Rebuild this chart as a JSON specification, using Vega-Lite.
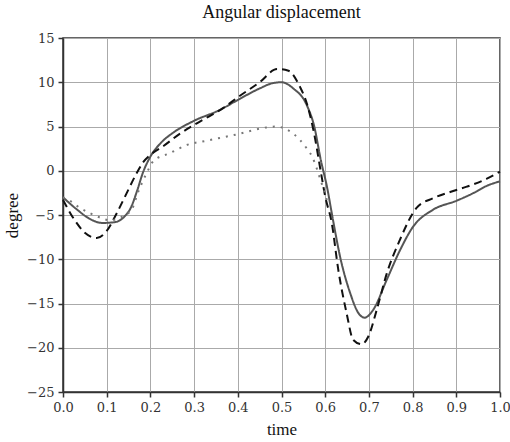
{
  "$schema": "https://vega.github.io/schema/vega-lite/v6.json",
  "width": 437,
  "height": 354,
  "autosize": {"type": "none"},
  "padding": {"left": 63, "top": 38, "right": 10, "bottom": 50},
  "title": {"text": "Angular displacement", "font": "Liberation Serif", "fontSize": 18, "fontWeight": "normal", "color": "#111", "offset": 10, "anchor": "middle"},
  "config": {
    "view": {"stroke": "#333", "strokeWidth": 1.5},
    "axis": {"labelFont": "DejaVu Serif", "titleFont": "Liberation Serif", "labelFontSize": 13, "titleFontSize": 17, "titleFontWeight": "normal", "labelColor": "#333", "titleColor": "#111", "domainColor": "#333", "domainWidth": 1.5, "tickColor": "#333", "tickWidth": 1.5, "tickSize": 5, "gridColor": "#aaa", "gridWidth": 1, "gridOpacity": 1}
  },
  "data": {"values": [
    {"s":"solid","t":0.0,"v":-3.0},{"s":"solid","t":0.03,"v":-4.3},{"s":"solid","t":0.06,"v":-5.4},{"s":"solid","t":0.09,"v":-5.9},{"s":"solid","t":0.12,"v":-5.8},{"s":"solid","t":0.14,"v":-5.2},{"s":"solid","t":0.155,"v":-4.2},{"s":"solid","t":0.17,"v":-2.2},{"s":"solid","t":0.183,"v":-0.2},{"s":"solid","t":0.2,"v":1.6},{"s":"solid","t":0.225,"v":3.2},{"s":"solid","t":0.252,"v":4.3},{"s":"solid","t":0.298,"v":5.6},{"s":"solid","t":0.36,"v":6.9},{"s":"solid","t":0.4,"v":8.0},{"s":"solid","t":0.45,"v":9.3},{"s":"solid","t":0.48,"v":9.9},{"s":"solid","t":0.5,"v":10.0},{"s":"solid","t":0.527,"v":9.3},{"s":"solid","t":0.558,"v":7.4},{"s":"solid","t":0.575,"v":5.0},{"s":"solid","t":0.59,"v":1.2},{"s":"solid","t":0.604,"v":-1.8},{"s":"solid","t":0.618,"v":-5.6},{"s":"solid","t":0.634,"v":-9.7},{"s":"solid","t":0.657,"v":-13.8},{"s":"solid","t":0.675,"v":-16.0},{"s":"solid","t":0.69,"v":-16.6},{"s":"solid","t":0.71,"v":-15.7},{"s":"solid","t":0.741,"v":-12.3},{"s":"solid","t":0.771,"v":-9.0},{"s":"solid","t":0.8,"v":-6.4},{"s":"solid","t":0.847,"v":-4.4},{"s":"solid","t":0.9,"v":-3.4},{"s":"solid","t":0.94,"v":-2.5},{"s":"solid","t":0.97,"v":-1.7},{"s":"solid","t":1.0,"v":-1.2},
    {"s":"dashed","t":0.0,"v":-3.3},{"s":"dashed","t":0.027,"v":-5.6},{"s":"dashed","t":0.05,"v":-7.0},{"s":"dashed","t":0.077,"v":-7.6},{"s":"dashed","t":0.1,"v":-6.8},{"s":"dashed","t":0.123,"v":-4.8},{"s":"dashed","t":0.146,"v":-2.5},{"s":"dashed","t":0.165,"v":-0.6},{"s":"dashed","t":0.184,"v":1.0},{"s":"dashed","t":0.2,"v":1.8},{"s":"dashed","t":0.23,"v":2.8},{"s":"dashed","t":0.268,"v":4.2},{"s":"dashed","t":0.329,"v":6.0},{"s":"dashed","t":0.367,"v":7.1},{"s":"dashed","t":0.4,"v":8.3},{"s":"dashed","t":0.45,"v":10.0},{"s":"dashed","t":0.49,"v":11.5},{"s":"dashed","t":0.516,"v":11.3},{"s":"dashed","t":0.542,"v":9.5},{"s":"dashed","t":0.558,"v":7.6},{"s":"dashed","t":0.573,"v":4.6},{"s":"dashed","t":0.592,"v":-0.7},{"s":"dashed","t":0.6,"v":-2.9},{"s":"dashed","t":0.615,"v":-5.9},{"s":"dashed","t":0.63,"v":-11.2},{"s":"dashed","t":0.649,"v":-16.1},{"s":"dashed","t":0.664,"v":-19.1},{"s":"dashed","t":0.683,"v":-19.6},{"s":"dashed","t":0.699,"v":-18.7},{"s":"dashed","t":0.718,"v":-15.7},{"s":"dashed","t":0.741,"v":-11.6},{"s":"dashed","t":0.771,"v":-7.8},{"s":"dashed","t":0.809,"v":-4.2},{"s":"dashed","t":0.847,"v":-3.1},{"s":"dashed","t":0.886,"v":-2.4},{"s":"dashed","t":0.924,"v":-1.8},{"s":"dashed","t":0.97,"v":-0.9},{"s":"dashed","t":1.0,"v":-0.1},
    {"s":"dotted","t":0.0,"v":-3.0},{"s":"dotted","t":0.016,"v":-3.4},{"s":"dotted","t":0.039,"v":-4.2},{"s":"dotted","t":0.062,"v":-4.8},{"s":"dotted","t":0.085,"v":-5.3},{"s":"dotted","t":0.108,"v":-5.6},{"s":"dotted","t":0.13,"v":-5.3},{"s":"dotted","t":0.157,"v":-4.4},{"s":"dotted","t":0.172,"v":-2.4},{"s":"dotted","t":0.191,"v":-0.3},{"s":"dotted","t":0.207,"v":1.1},{"s":"dotted","t":0.245,"v":2.0},{"s":"dotted","t":0.283,"v":2.9},{"s":"dotted","t":0.329,"v":3.4},{"s":"dotted","t":0.397,"v":4.1},{"s":"dotted","t":0.466,"v":4.9},{"s":"dotted","t":0.489,"v":5.0},{"s":"dotted","t":0.51,"v":4.7},{"s":"dotted","t":0.527,"v":4.2},{"s":"dotted","t":0.542,"v":3.5},{"s":"dotted","t":0.558,"v":2.5},{"s":"dotted","t":0.571,"v":1.5},{"s":"dotted","t":0.579,"v":0.5},{"s":"dotted","t":0.587,"v":-0.7},{"s":"dotted","t":0.595,"v":-1.9},{"s":"dotted","t":0.605,"v":-3.5}
  ]},
  "mark": {"type": "line", "interpolate": "monotone", "strokeWidth": 2},
  "encoding": {
    "x": {"field": "t", "type": "quantitative", "scale": {"domain": [0, 1], "nice": false}, "axis": {"title": "time", "values": [0,0.1,0.2,0.3,0.4,0.5,0.6,0.7,0.8,0.9,1.0], "format": ".1f", "labelPadding": 4, "titlePadding": 7, "labelFlush": false}},
    "y": {"field": "v", "type": "quantitative", "scale": {"domain": [-25, 15], "nice": false}, "axis": {"title": "degree", "values": [-25,-20,-15,-10,-5,0,5,10,15], "labelPadding": 4, "titlePadding": 5, "labelFlush": false}},
    "detail": {"field": "s"},
    "color": {"field": "s", "type": "nominal", "scale": {"domain": ["solid","dashed","dotted"], "range": ["#555555","#111111","#777777"]}, "legend": null},
    "strokeDash": {"field": "s", "type": "nominal", "scale": {"domain": ["solid","dashed","dotted"], "range": [[1,0],[8,5],[2,6]]}, "legend": null},
    "order": {"field": "t", "type": "quantitative"}
  }
}
